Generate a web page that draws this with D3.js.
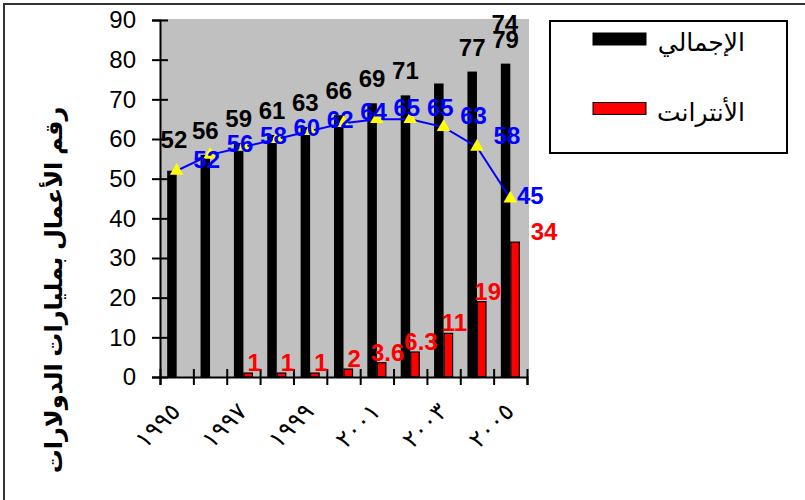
<!DOCTYPE html>
<html>
<head>
<meta charset="utf-8">
<script src="https://cdn.jsdelivr.net/npm/d3@7"></script>
<style>
  body { margin: 0; background: #fff; }
  text { font-family: Arial, "Liberation Sans", "DejaVu Sans", sans-serif; }
</style>
</head>
<body>
<script>
// data
const years = ['1995','1996','1997','1998','1999','2000','2001','2002','2003','2004','2005'];
const yearLabels = ['١٩٩٥','','١٩٩٧','','١٩٩٩','','٢٠٠١','','٢٠٠٣','','٢٠٠٥'];
const totalValues = [52,56,59,61,63,66,69,71,74,77,79];
const internetValues = [null,null,1,1,1,2,3.6,6.3,11,19,34];
const internetLabels = ['','','1','1','1','2','3.6','6.3','11','19','34'];
const lineValues = [52,56,58,60,62,64,65,65,63,58,45];
const yTicks = [0,10,20,30,40,50,60,70,80,90];
const seriesNames = ['الإجمالي','الأنترانت'];
const yTitle = 'رقم الأعمال بمليارات الدولارات';

const width = 805, height = 500;
const pLeft = 160, pRight = 527, pTop = 20, pBottom = 377;

const svg = d3.select('body').append('svg').attr('width',width).attr('height',height);

// frame (top and left edges only)
svg.append('path').attr('d','M4,500V4H805').attr('fill','none').attr('stroke','#333').attr('stroke-width',2);

const x = d3.scaleBand().domain(years).range([pLeft,pRight]).paddingInner(0.43).paddingOuter(0.215);
const xs = d3.scaleBand().domain(['total','internet']).range([0,x.bandwidth()]);
const xc = d3.scalePoint().domain(years).range([pLeft,pRight]).padding(0.5);
const xEdge = d3.scaleLinear().domain([0,years.length]).range([pLeft,pRight]);
const y = d3.scaleLinear().domain([0,90]).range([pBottom,pTop]);

// plot background
svg.append('rect').attr('x',pLeft).attr('y',y(90)-1).attr('width',pRight-pLeft+2).attr('height',pBottom-y(90)+1).attr('fill','#c0c0c0');

// bars
svg.selectAll('rect.total').data(totalValues).enter().append('rect')
  .attr('class','total')
  .attr('x',(d,i)=>x(years[i])+xs('total'))
  .attr('y',d=>y(d))
  .attr('width',xs.bandwidth())
  .attr('height',d=>pBottom-y(d))
  .attr('fill','#000');

svg.selectAll('rect.internet').data(internetValues).enter().append('rect')
  .attr('class','internet')
  .attr('x',(d,i)=>x(years[i])+xs('internet')+0.5)
  .attr('y',d=>d==null?pBottom:y(d))
  .attr('width',xs.bandwidth()-1)
  .attr('height',d=>d==null?0:pBottom-y(d))
  .attr('fill','#ff0000').attr('stroke','#000').attr('stroke-width',1.2)
  .style('display',d=>d==null?'none':null);

// y axis
const yAxis = svg.append('g').attr('transform',`translate(${pLeft},0)`)
  .call(d3.axisLeft(y).tickValues(yTicks).tickSize(8).tickPadding(16));
yAxis.select('.domain').attr('stroke','#000').attr('stroke-width',2);
yAxis.selectAll('.tick line').attr('x2',-8).attr('x1',8).attr('stroke-width',2);
yAxis.selectAll('.tick text').attr('font-size',24).attr('fill','#000')
  .style('font-family','Arial, "Liberation Sans", sans-serif');

// x axis
const xAxis = svg.append('g').attr('transform',`translate(0,${pBottom})`)
  .call(d3.axisBottom(xEdge).tickValues(d3.range(years.length+1)).tickSize(8).tickFormat(''));
xAxis.select('.domain').attr('stroke','#000').attr('stroke-width',2);
xAxis.selectAll('.tick line').attr('y1',-8).attr('y2',8).attr('stroke-width',2);

svg.selectAll('text.xlab').data(yearLabels).enter().append('text')
  .attr('class','xlab')
  .attr('transform',(d,i)=>`translate(${xc(years[i])+5},${pBottom+36}) rotate(-45)`)
  .attr('text-anchor','end')
  .attr('font-size',24)
  .text(d=>d);

// line series
const line = d3.line().x((d,i)=>xc(years[i])).y(d=>y(d));
svg.append('path').datum(lineValues).attr('d',line).attr('fill','none').attr('stroke','#0000ff').attr('stroke-width',2);
svg.selectAll('path.tri').data(lineValues).enter().append('path')
  .attr('class','tri')
  .attr('d',d3.symbol().type(d3.symbolTriangle).size(80))
  .attr('transform',(d,i)=>`translate(${xc(years[i])},${y(d)})`)
  .attr('fill','#ffff00');

// value labels (excel placed a few of them off their spot)
const totalNudge = {0:[2,-7], 8:[66,-35]};
const internetNudge = {10:[23,0]};
const lineNudge = {10:[-10,8]};

svg.selectAll('text.tl').data(totalValues).enter().append('text')
  .attr('class','tl')
  .attr('x',(d,i)=>x(years[i])+xs('total')+xs.bandwidth()/2+(totalNudge[i]?totalNudge[i][0]:0))
  .attr('y',(d,i)=>y(d)-16+(totalNudge[i]?totalNudge[i][1]:0))
  .attr('text-anchor','middle').attr('font-size',24).attr('font-weight','bold').attr('fill','#000')
  .text(d=>d);

svg.selectAll('text.il').data(internetLabels).enter().append('text')
  .attr('class','il')
  .attr('x',(d,i)=>x(years[i])+xs('internet')+xs.bandwidth()/2+6+(internetNudge[i]?internetNudge[i][0]:0))
  .attr('y',(d,i)=>internetValues[i]==null?0:y(internetValues[i])-2)
  .attr('text-anchor','middle').attr('font-size',24).attr('font-weight','bold').attr('fill','#ff0000')
  .text(d=>d);

svg.selectAll('text.ll').data(lineValues).enter().append('text')
  .attr('class','ll')
  .attr('x',(d,i)=>xc(years[i])+30+(lineNudge[i]?lineNudge[i][0]:0))
  .attr('y',(d,i)=>y(d)-3+(lineNudge[i]?lineNudge[i][1]:0))
  .attr('text-anchor','middle').attr('font-size',24).attr('font-weight','bold').attr('fill','#0000ff')
  .text(d=>d);

// y title
svg.append('text')
  .attr('transform','translate(62,290) rotate(-90)')
  .attr('text-anchor','middle').attr('font-size',24).attr('font-weight','bold')
  .text(yTitle);

// legend
const lg = svg.append('g');
lg.append('rect').attr('x',550).attr('y',21).attr('width',237).attr('height',132)
  .attr('fill','#fff').attr('stroke','#000').attr('stroke-width',2);
const swatchFill = ['#000','#ff0000'];
seriesNames.forEach((name,i)=>{
  const cy = 39 + i*69.5;
  lg.append('rect').attr('x',593).attr('y',cy-6).attr('width',53).attr('height',12)
    .attr('fill',swatchFill[i]).attr('stroke','#000').attr('stroke-width',1);
  lg.append('text').attr('x',745).attr('y',cy+12).attr('text-anchor','end')
    .attr('font-size',25).attr('fill','#000')
    .style('font-family','"DejaVu Sans", sans-serif')
    .text(name);
});
</script>
</body>
</html>
